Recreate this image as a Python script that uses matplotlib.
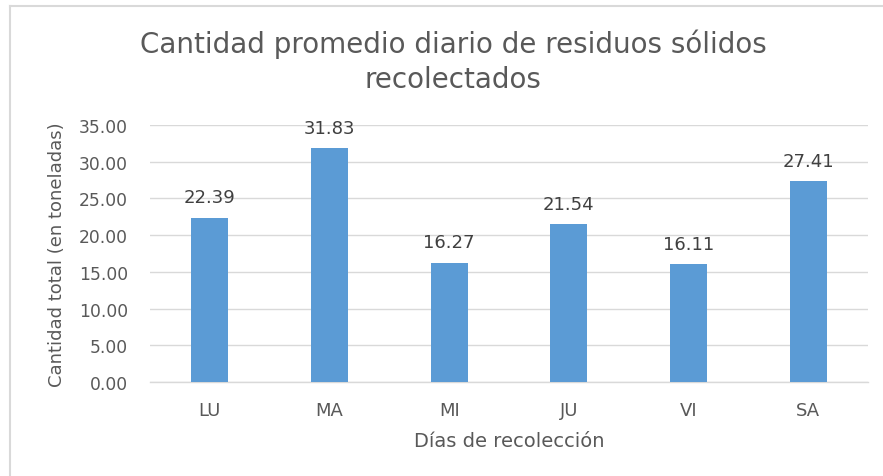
import matplotlib
matplotlib.use("Agg")
import matplotlib.pyplot as plt
from matplotlib.lines import Line2D

days = ["LU", "MA", "MI", "JU", "VI", "SA"]
values = [22.39, 31.83, 16.27, 21.54, 16.11, 27.41]
yticks = [0, 5, 10, 15, 20, 25, 30, 35]

plt.rcParams['font.family'] = ["DejaVu Sans"]

fig = plt.figure(figsize=(8.83, 4.77), dpi=100)
W, H = 883, 477
ax = fig.add_axes([150 / W, 1 - 383 / H, (868 - 150) / W, (383 - 126) / H])

x = range(len(days))
ax.bar(x, values, width=0.31, color="#5b9bd5", zorder=3)
for i, v in enumerate(values):
    ax.annotate(f"{v:.2f}", (i, v), xytext=(0, 8), textcoords="offset points",
                ha="center", va="bottom", fontsize=13, color="#404040")

ax.set_ylim(0, 35)
ax.set_xlim(-0.5, len(days) - 0.5)
ax.set_yticks(yticks)
ax.set_yticklabels([f"{t:.2f}" for t in yticks])
ax.set_xticks(list(x))
ax.set_xticklabels(days)
ax.tick_params(axis="both", length=0, labelsize=12.3, colors="#595959")
ax.tick_params(axis="x", pad=14, labelsize=13)
ax.tick_params(axis="y", pad=16)
ax.grid(axis="y", color="#d9d9d9", linewidth=1, zorder=0)
for s in ["top", "right", "left"]:
    ax.spines[s].set_visible(False)
ax.spines["bottom"].set_color("#d9d9d9")
ax.spines["bottom"].set_linewidth(1)

ax.set_xlabel("Días de recolección", fontsize=14, color="#595959", labelpad=8)
ax.set_ylabel("Cantidad total (en toneladas)", fontsize=13, color="#595959", labelpad=9)

fig.text(453 / W, 1 - 62 / H, "Cantidad promedio diario de residuos sólidos\nrecolectados",
         ha="center", va="center", fontsize=20, color="#595959", linespacing=1.3)

# outer frame lines (chart border partially visible)
fig.add_artist(Line2D([10 / W, 10 / W], [0, 1 - 7 / H], transform=fig.transFigure,
                      color="#d9d9d9", linewidth=1.5))
fig.add_artist(Line2D([10 / W, 1], [1 - 7 / H, 1 - 7 / H], transform=fig.transFigure,
                      color="#d9d9d9", linewidth=1.5))

fig.savefig("out.png", dpi=100)
